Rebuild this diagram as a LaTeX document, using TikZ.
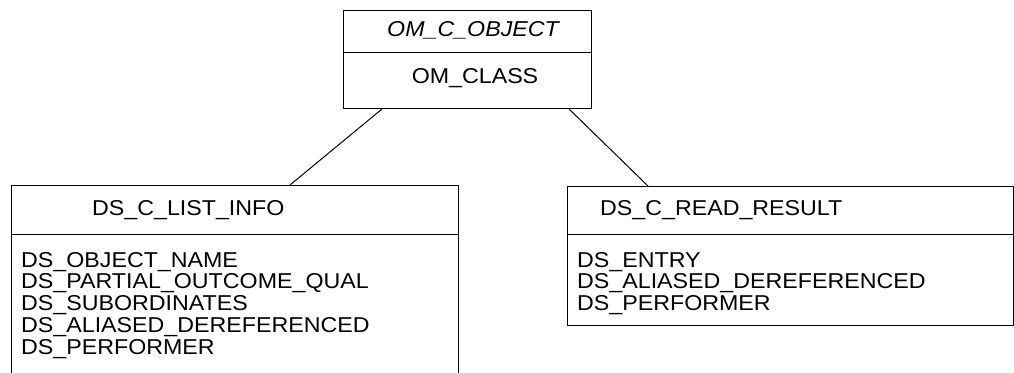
\documentclass[tikz,border=0pt]{standalone}
\usepackage{fontspec}
\setmainfont[FakeStretch=1.08]{Liberation Sans}
\begin{document}
\begin{tikzpicture}[x=1pt,y=-1pt,
  box/.style={draw,line width=1pt,rectangle,inner sep=0pt,anchor=north west},
  rule/.style={line width=1pt},
  lbl/.style={inner sep=0pt,anchor=base west,font=\fontsize{21.5}{22}\selectfont},
  clbl/.style={inner sep=0pt,anchor=base,font=\fontsize{21.5}{22}\selectfont}]
\clip (0,0) rectangle (1014,372);
\useasboundingbox (0,0) rectangle (1014,372);
% top class
\node[box,minimum width=248pt,minimum height=98pt] (top) at (343,10) {};
\draw[rule] (343,52) -- (591,52);
\node[clbl,font=\fontsize{21.5}{22}\selectfont\itshape] (tname) at (473,36) {OM\_C\_OBJECT};
\node[clbl] (tattr) at (475,83) {OM\_CLASS};
% left class
\node[box,minimum width=447pt,minimum height=200pt] (left) at (11,185) {};
\draw[rule] (11,234) -- (458,234);
\node[lbl] (lname) at (92,215) {DS\_C\_LIST\_INFO};
\node[lbl] (la1) at (21,267) {DS\_OBJECT\_NAME};
\node[lbl] (la2) at (21,288.5) {DS\_PARTIAL\_OUTCOME\_QUAL};
\node[lbl] (la3) at (21,310) {DS\_SUBORDINATES};
\node[lbl] (la4) at (21,332) {DS\_ALIASED\_DEREFERENCED};
\node[lbl] (la5) at (21,354) {DS\_PERFORMER};
% right class
\node[box,minimum width=446pt,minimum height=139pt] (right) at (567,186) {};
\draw[rule] (567,234) -- (1013,234);
\node[lbl] (rname) at (600,215) {DS\_C\_READ\_RESULT};
\node[lbl] (ra1) at (577,267) {DS\_ENTRY};
\node[lbl] (ra2) at (577,288.5) {DS\_ALIASED\_DEREFERENCED};
\node[lbl] (ra3) at (577,310) {DS\_PERFORMER};
% connectors
\coordinate (tl) at ([xshift=39pt]top.south west);
\coordinate (tr) at ([xshift=-23pt]top.south east);
\coordinate (lt) at ([xshift=279pt]left.north west);
\coordinate (rt) at ([xshift=81pt]right.north west);
\draw[rule] (tl) -- (lt);
\draw[rule] (tr) -- (rt);
\end{tikzpicture}
\end{document}
